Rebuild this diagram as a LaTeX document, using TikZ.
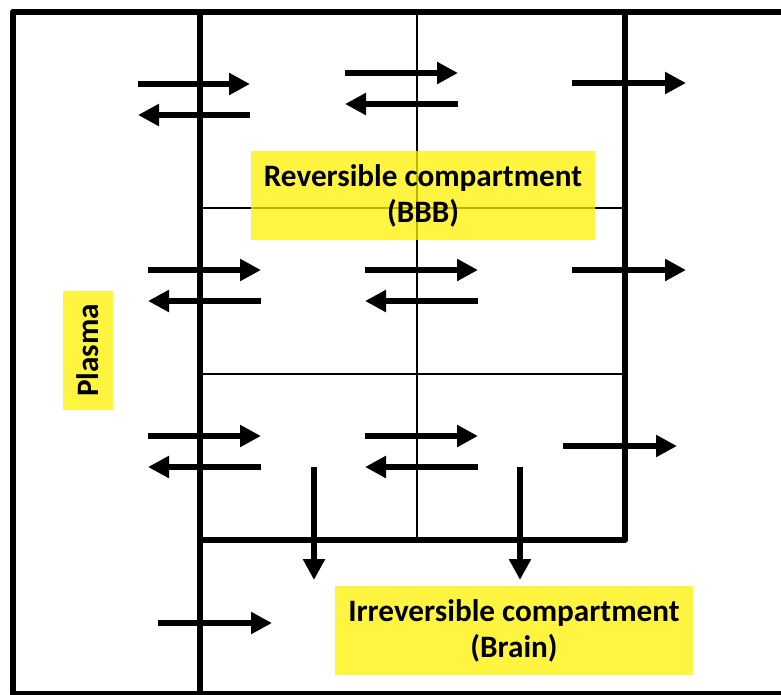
\documentclass[tikz,border=0pt]{standalone}
\usepackage{fontspec}
\setmainfont{Carlito}
\usetikzlibrary{arrows.meta}
\tikzset{
  thickline/.style={line width=6pt, line join=round},
  thinline/.style={line width=2pt},
  arr/.style={line width=6.5pt, -{Triangle[length=21pt,width=21pt]}},
  ybox/.style={fill=yellow, fill opacity=0.75, text opacity=1, inner sep=0pt,
    align=center, font=\fontsize{31.2}{36}\selectfont\bfseries},
}
\begin{document}
\begin{tikzpicture}[x=1pt,y=-1pt]
\useasboundingbox (0,0) rectangle (781,694);
\begin{scope}
\clip (0,0) rectangle (781,694);
% outer frame
\coordinate (f1) at (13,11.5);
\coordinate (f2) at (795,693.5);
\draw[thickline] (f1) rectangle (f2);
% compartment box
\coordinate (ct) at (200,11.5);
\coordinate (cb) at (200,694);
\coordinate (rt) at (625,11.5);
\coordinate (rb) at (625,540);
\coordinate (lb) at (200,540);
\draw[thickline] (ct) -- (cb);
\draw[thickline] (rt) -- (rb) -- (lb);
% thin dividers
\coordinate (mt) at (417,11.5);
\coordinate (mb) at (417,540);
\draw[thinline] (mt) -- (mb);
\coordinate (h1a) at (200,208); \coordinate (h1b) at (625,208);
\coordinate (h2a) at (200,374); \coordinate (h2b) at (625,374);
\draw[thinline] (h1a) -- (h1b);
\draw[thinline] (h2a) -- (h2b);
\end{scope}
% arrows
\foreach \n/\xa/\ya/\xb/\yb in {
  a1/138/84/250/84, a2/250/115/138/115,
  a3/345/73/458/73, a4/458/104/345/104,
  a5/572/83/686/83,
  b1/148/270/261/270, b2/261/301/148/301,
  b3/365/270/478/270, b4/478/301/365/301,
  b5/572/270/686/270,
  c1/148/436/261/436, c2/261/467/148/467,
  c3/365/436/478/436, c4/478/467/365/467,
  c5/563/446/677/446,
  d1/314/467/314/580, d2/520/467/520/580,
  e1/158/623/272/623}{
  \coordinate (\n s) at (\xa,\ya);
  \coordinate (\n e) at (\xb,\yb);
  \draw[arr] (\n s) -- (\n e);
}
% labels
\node[ybox, minimum width=344pt, minimum height=89pt] (bbb) at (423,195.5)
  {Reversible compartment\\(BBB)};
\node[ybox, minimum width=358pt, minimum height=89pt] (brain) at (514,630.5)
  {Irreversible compartment\\(Brain)};
\node[ybox, rotate=90, minimum width=119pt, minimum height=50pt] (plasma) at (88,350.5)
  {Plasma};
\end{tikzpicture}
\end{document}
